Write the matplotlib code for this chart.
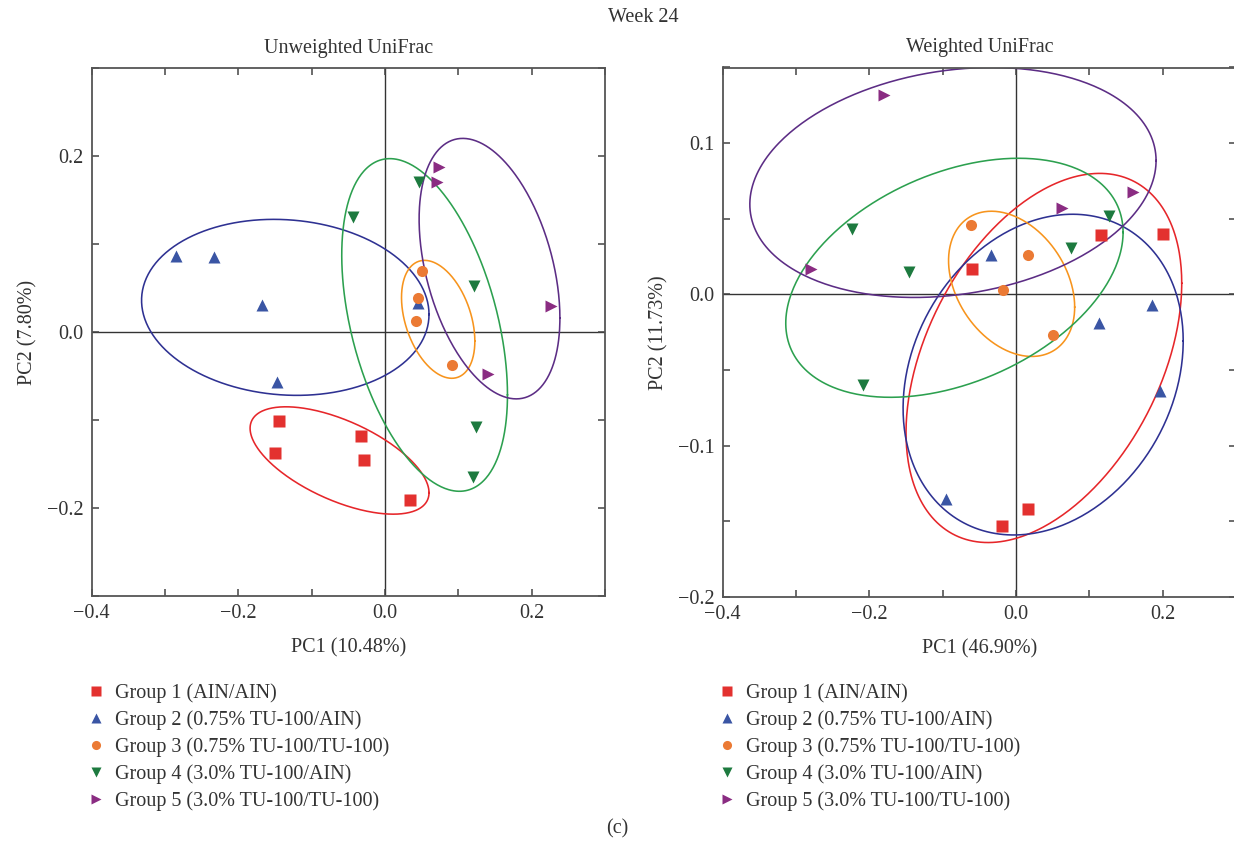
import numpy as np
import matplotlib.pyplot as plt
from matplotlib.ticker import MultipleLocator, FuncFormatter

plt.rcParams["font.family"] = ["Liberation Serif", "DejaVu Serif"]
plt.rcParams["font.size"] = 14.5
plt.rcParams["axes.unicode_minus"] = True

groups = [
    "Group 1 (AIN/AIN)",
    "Group 2 (0.75% TU-100/AIN)",
    "Group 3 (0.75% TU-100/TU-100)",
    "Group 4 (3.0% TU-100/AIN)",
    "Group 5 (3.0% TU-100/TU-100)",
]
markers = ["s", "^", "o", "v", ">"]
point_colors = ["#E3312F", "#3A55A4", "#EB7A34", "#1D7A3F", "#8A2C82"]
ring_colors = ["#E6262A", "#2E3192", "#F7941D", "#2CA04F", "#5C2D85"]

# Unweighted UniFrac, PC1 / PC2 per group
unw_pc1 = [
    [-0.145, -0.150, -0.033, -0.028, 0.034],
    [-0.285, -0.233, -0.168, -0.147, 0.045],
    [0.050, 0.045, 0.042, 0.092],
    [-0.043, 0.046, 0.121, 0.124, 0.120],
    [0.073, 0.071, 0.227, 0.140],
]
unw_pc2 = [
    [-0.101, -0.137, -0.118, -0.145, -0.191],
    [0.086, 0.085, 0.031, -0.057, 0.033],
    [0.069, 0.039, 0.013, -0.037],
    [0.131, 0.170, 0.052, -0.108, -0.165],
    [0.187, 0.170, 0.029, -0.048],
]

# Weighted UniFrac, PC1 / PC2 per group
w_pc1 = [
    [-0.060, 0.116, 0.200, 0.017, -0.019],
    [-0.034, 0.113, 0.185, 0.197, -0.095],
    [-0.061, 0.017, -0.018, 0.050],
    [-0.223, -0.146, 0.075, 0.127, -0.209],
    [-0.180, -0.280, 0.063, 0.159],
]
w_pc2 = [
    [0.017, 0.039, 0.040, -0.142, -0.153],
    [0.026, -0.019, -0.007, -0.064, -0.135],
    [0.046, 0.026, 0.003, -0.027],
    [0.043, 0.015, 0.031, 0.052, -0.060],
    [0.132, 0.017, 0.057, 0.068],
]

# Group ellipses: centre, half-extent along each axis, correlation
unw_cx = [-0.062, -0.136, 0.0725, 0.054, 0.1425]
unw_cy = [-0.146, 0.028, 0.0144, 0.008, 0.072]
unw_rx = [0.122, 0.196, 0.050, 0.113, 0.096]
unw_ry = [0.061, 0.100, 0.067, 0.189, 0.148]
unw_rho = [-0.60, -0.08, -0.37, -0.42, -0.38]

w_cx = [0.038, 0.037, -0.006, -0.084, -0.086]
w_cy = [-0.042, -0.053, 0.007, 0.011, 0.074]
w_rx = [0.188, 0.191, 0.086, 0.230, 0.277]
w_ry = [0.122, 0.106, 0.048, 0.079, 0.076]
w_rho = [0.405, 0.21, -0.32, 0.38, 0.19]

panels = [
    ("Unweighted UniFrac", "PC1 (10.48%)", "PC2 (7.80%)", (-0.3, 0.3), 0.1, 0.2,
     unw_pc1, unw_pc2, unw_cx, unw_cy, unw_rx, unw_ry, unw_rho),
    ("Weighted UniFrac", "PC1 (46.90%)", "PC2 (11.73%)", (-0.2, 0.15), 0.05, 0.1,
     w_pc1, w_pc2, w_cx, w_cy, w_rx, w_ry, w_rho),
]

W, H = 1234, 850
fig = plt.figure(figsize=(W / 100, H / 100), dpi=100)
axes = [
    fig.add_axes([91.7 / W, 254 / H, 513.3 / W, 528 / H]),
    fig.add_axes([722.7 / W, 253 / H, 513.3 / W, 529.5 / H]),
]

t = np.linspace(0, 2 * np.pi, 400)


def tick_fmt(step):
    def f(v, pos):
        if abs(round(v / step) - v / step) > 1e-6:
            return ""
        return f"{v:.1f}".replace("-", "\u2212")
    return f


for ax, p in zip(axes, panels):
    title, xl, yl, ylim, ystep, ylab, px, py, cx, cy, rx, ry, rho = p
    ax.axhline(0, color="#333333", lw=1.0, zorder=1)
    ax.axvline(0, color="#333333", lw=1.0, zorder=1)
    for i in range(len(groups)):
        ex = cx[i] + rx[i] * np.cos(t)
        ey = cy[i] + ry[i] * (rho[i] * np.cos(t) + np.sqrt(1 - rho[i] ** 2) * np.sin(t))
        ax.plot(ex, ey, color=ring_colors[i], lw=1.15, zorder=2)
    for i, g in enumerate(groups):
        ax.plot(px[i], py[i], ls="none", marker=markers[i], ms=8,
                color=point_colors[i], mec="none", label=g, zorder=3)
    ax.set_xlim(-0.4, 0.3)
    ax.set_ylim(*ylim)
    ax.xaxis.set_major_locator(MultipleLocator(0.1))
    ax.yaxis.set_major_locator(MultipleLocator(ystep))
    ax.xaxis.set_major_formatter(FuncFormatter(tick_fmt(0.2)))
    ax.yaxis.set_major_formatter(FuncFormatter(tick_fmt(ylab)))
    ax.tick_params(direction="in", length=5, width=1.1, color="#444444",
                   top=True, right=True, pad=6, labelsize=14.5, labelcolor="#333333")
    for s in ax.spines.values():
        s.set_color("#555555")
        s.set_linewidth(1.3)
    ax.set_title(title, fontsize=14.5, pad=11, color="#333333")
    ax.set_xlabel(xl, fontsize=14.5, labelpad=11, color="#333333")
    ax.set_ylabel(yl, fontsize=14.5, labelpad=7, color="#333333")

fig.text(643 / W, 1 - 17 / H, "Week 24", ha="center", va="center",
         fontsize=14.5, color="#333333")
fig.text(617 / W, 1 - 829 / H, "(c)", ha="center", va="center",
         fontsize=14.5, color="#333333")

handles, labels = axes[0].get_legend_handles_labels()
for x0 in (88, 719):
    fig.legend(handles, labels, loc="upper left",
               bbox_to_anchor=(x0 / W, 1 - 683 / H), frameon=False,
               handlelength=0.8, handletextpad=0.55, labelspacing=0.36,
               borderpad=0, borderaxespad=0, markerscale=0.82,
               fontsize=14.5, labelcolor="#333333")

fig.savefig("out.png", dpi=100)
